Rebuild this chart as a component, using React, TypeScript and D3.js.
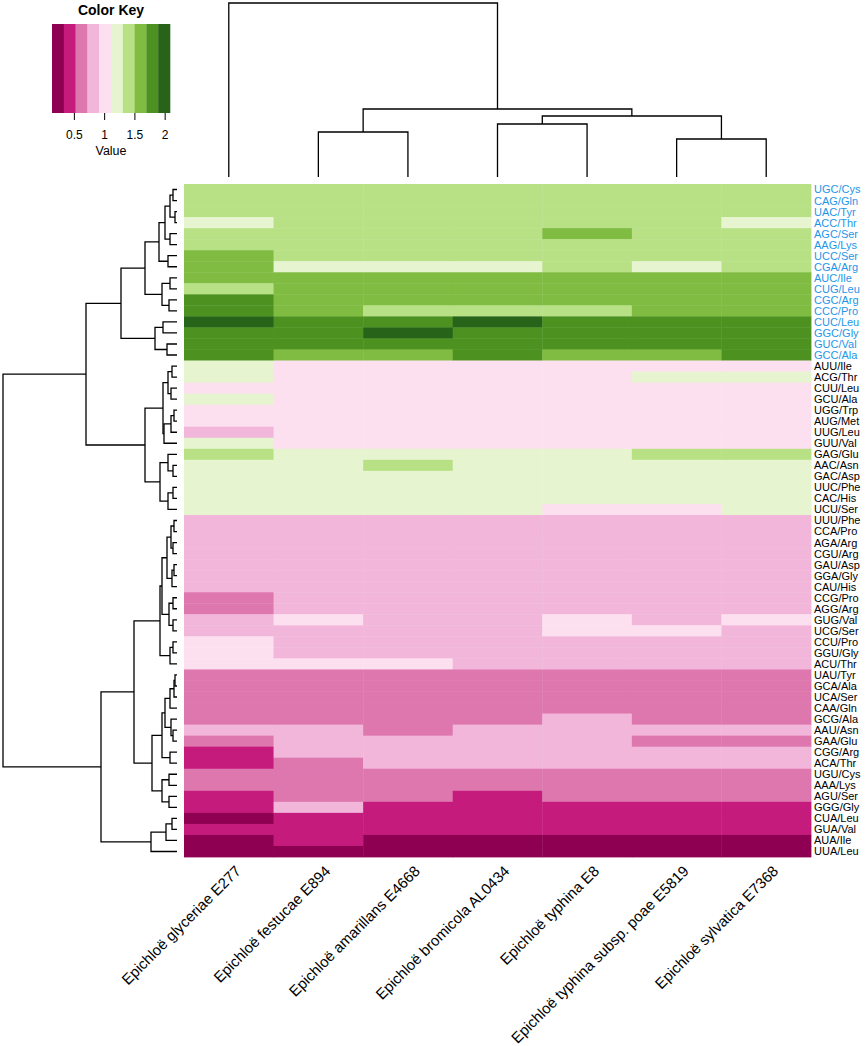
import React from "react";
import * as d3 from "d3";

const strains = [
  "Epichloë glyceriae E277",
  "Epichloë festucae E894",
  "Epichloë amarillans E4668",
  "Epichloë bromicola AL0434",
  "Epichloë typhina E8",
  "Epichloë typhina subsp. poae E5819",
  "Epichloë sylvatica E7368",
];

const codons = [
  "UGC/Cys", "CAG/Gln", "UAC/Tyr", "ACC/Thr", "AGC/Ser", "AAG/Lys", "UCC/Ser", "CGA/Arg",
  "AUC/Ile", "CUG/Leu", "CGC/Arg", "CCC/Pro", "CUC/Leu", "GGC/Gly", "GUC/Val", "GCC/Ala",
  "AUU/Ile", "ACG/Thr", "CUU/Leu", "GCU/Ala", "UGG/Trp", "AUG/Met", "UUG/Leu", "GUU/Val",
  "GAG/Glu", "AAC/Asn", "GAC/Asp", "UUC/Phe", "CAC/His", "UCU/Ser",
  "UUU/Phe", "CCA/Pro", "AGA/Arg", "CGU/Arg", "GAU/Asp", "GGA/Gly", "CAU/His", "CCG/Pro",
  "AGG/Arg", "GUG/Val", "UCG/Ser", "CCU/Pro", "GGU/Gly", "ACU/Thr",
  "UAU/Tyr", "GCA/Ala", "UCA/Ser", "CAA/Gln", "GCG/Ala", "AAU/Asn", "GAA/Glu", "CGG/Arg",
  "ACA/Thr", "UGU/Cys", "AAA/Lys", "AGU/Ser", "GGG/Gly", "CUA/Leu", "GUA/Val", "AUA/Ile", "UUA/Leu",
];

const preferredCodons = [
  "UGC/Cys", "CAG/Gln", "UAC/Tyr", "ACC/Thr", "AGC/Ser", "AAG/Lys", "UCC/Ser", "CGA/Arg",
  "AUC/Ile", "CUG/Leu", "CGC/Arg", "CCC/Pro", "CUC/Leu", "GGC/Gly", "GUC/Val", "GCC/Ala",
];

// RSCU values per strain (row order = codons)
const glyceriaeE277 = [
  1.40, 1.40, 1.40, 1.20, 1.40, 1.40, 1.59, 1.59, 1.59, 1.40, 1.79, 1.79, 1.98, 1.79, 1.79, 1.79,
  1.20, 1.20, 1.01, 1.20, 1.01, 1.01, 0.81, 1.20, 1.40, 1.20, 1.20, 1.20, 1.20, 1.20,
  0.81, 0.81, 0.81, 0.81, 0.81, 0.81, 0.81, 0.62, 0.62, 0.81, 0.81, 1.01, 1.01, 1.01,
  0.62, 0.62, 0.62, 0.62, 0.62, 0.81, 0.62, 0.42, 0.42, 0.62, 0.62, 0.42, 0.42, 0.23, 0.42, 0.23, 0.23,
];
const festucaeE894 = [
  1.40, 1.40, 1.40, 1.40, 1.40, 1.40, 1.40, 1.20, 1.59, 1.59, 1.59, 1.59, 1.79, 1.79, 1.79, 1.59,
  1.01, 1.01, 1.01, 1.01, 1.01, 1.01, 1.01, 1.01, 1.20, 1.20, 1.20, 1.20, 1.20, 1.20,
  0.81, 0.81, 0.81, 0.81, 0.81, 0.81, 0.81, 0.81, 0.81, 1.01, 0.81, 0.81, 0.81, 1.01,
  0.62, 0.62, 0.62, 0.62, 0.62, 0.81, 0.81, 0.81, 0.62, 0.62, 0.62, 0.62, 0.81, 0.42, 0.42, 0.42, 0.23,
];
const amarillansE4668 = [
  1.40, 1.40, 1.40, 1.40, 1.40, 1.40, 1.40, 1.20, 1.59, 1.59, 1.59, 1.40, 1.79, 1.98, 1.79, 1.59,
  1.01, 1.01, 1.01, 1.01, 1.01, 1.01, 1.01, 1.01, 1.20, 1.40, 1.20, 1.20, 1.20, 1.20,
  0.81, 0.81, 0.81, 0.81, 0.81, 0.81, 0.81, 0.81, 0.81, 0.81, 0.81, 0.81, 0.81, 1.01,
  0.62, 0.62, 0.62, 0.62, 0.62, 0.62, 0.81, 0.81, 0.81, 0.62, 0.62, 0.62, 0.42, 0.42, 0.42, 0.23, 0.23,
];
const bromicolaAL0434 = [
  1.40, 1.40, 1.40, 1.40, 1.40, 1.40, 1.40, 1.20, 1.59, 1.59, 1.59, 1.40, 1.98, 1.79, 1.79, 1.79,
  1.01, 1.01, 1.01, 1.01, 1.01, 1.01, 1.01, 1.01, 1.20, 1.20, 1.20, 1.20, 1.20, 1.20,
  0.81, 0.81, 0.81, 0.81, 0.81, 0.81, 0.81, 0.81, 0.81, 0.81, 0.81, 0.81, 0.81, 0.81,
  0.62, 0.62, 0.62, 0.62, 0.62, 0.81, 0.81, 0.81, 0.81, 0.62, 0.62, 0.42, 0.42, 0.42, 0.42, 0.23, 0.23,
];
const typhinaE8 = [
  1.40, 1.40, 1.40, 1.40, 1.59, 1.40, 1.40, 1.40, 1.59, 1.59, 1.59, 1.40, 1.79, 1.79, 1.79, 1.59,
  1.01, 1.01, 1.01, 1.01, 1.01, 1.01, 1.01, 1.01, 1.20, 1.20, 1.20, 1.20, 1.20, 1.01,
  0.81, 0.81, 0.81, 0.81, 0.81, 0.81, 0.81, 0.81, 0.81, 1.01, 1.01, 0.81, 0.81, 0.81,
  0.62, 0.62, 0.62, 0.62, 0.81, 0.81, 0.81, 0.81, 0.81, 0.62, 0.62, 0.62, 0.42, 0.42, 0.42, 0.23, 0.23,
];
const poaeE5819 = [
  1.40, 1.40, 1.40, 1.40, 1.40, 1.40, 1.40, 1.20, 1.59, 1.59, 1.59, 1.59, 1.79, 1.79, 1.79, 1.59,
  1.01, 1.20, 1.01, 1.01, 1.01, 1.01, 1.01, 1.01, 1.40, 1.20, 1.20, 1.20, 1.20, 1.01,
  0.81, 0.81, 0.81, 0.81, 0.81, 0.81, 0.81, 0.81, 0.81, 0.81, 1.01, 0.81, 0.81, 0.81,
  0.62, 0.62, 0.62, 0.62, 0.62, 0.81, 0.62, 0.81, 0.81, 0.62, 0.62, 0.62, 0.42, 0.42, 0.42, 0.23, 0.23,
];
const sylvaticaE7368 = [
  1.40, 1.40, 1.40, 1.20, 1.40, 1.40, 1.40, 1.40, 1.59, 1.59, 1.59, 1.59, 1.79, 1.79, 1.79, 1.79,
  1.01, 1.20, 1.01, 1.01, 1.01, 1.01, 1.01, 1.01, 1.40, 1.20, 1.20, 1.20, 1.20, 1.20,
  0.81, 0.81, 0.81, 0.81, 0.81, 0.81, 0.81, 0.81, 0.81, 1.01, 0.81, 0.81, 0.81, 0.81,
  0.62, 0.62, 0.62, 0.62, 0.62, 0.81, 0.62, 0.81, 0.81, 0.62, 0.62, 0.62, 0.42, 0.42, 0.42, 0.23, 0.23,
];

const seriesValues = [
  glyceriaeE277, festucaeE894, amarillansE4668, bromicolaAL0434,
  typhinaE8, poaeE5819, sylvaticaE7368,
];

const keyDomain = [0.13, 2.08];
const keyTicks = [0.5, 1, 1.5, 2];
const palette = [
  "#8E0152", "#C51B7D", "#DE77AE", "#F1B6DA", "#FDE0EF",
  "#E6F5D0", "#B8E186", "#7FBC41", "#4D9221", "#276419",
];

type TreeNode = number | { h: number; c: [TreeNode, TreeNode] };

// Row dendrogram (leaves = codon row indices)
const rowTree: TreeNode = {
  h: 174, c: [
    { h: 91, c: [
      { h: 56, c: [
        { h: 32, c: [
          { h: 18, c: [
            { h: 12, c: [
              { h: 7, c: [{ h: 4, c: [0, 1] }, { h: 2, c: [2, 3] }] },
              { h: 7, c: [4, 5] },
            ] },
            { h: 9, c: [6, 7] },
          ] },
          { h: 15, c: [{ h: 7, c: [8, 9] }, { h: 8, c: [10, 11] }] },
        ] },
        { h: 22, c: [{ h: 14, c: [12, 13] }, { h: 10, c: [14, 15] }] },
      ] },
      { h: 32, c: [
        { h: 14, c: [
          { h: 9, c: [{ h: 5, c: [16, 17] }, { h: 6, c: [18, 19] }] },
          { h: 13, c: [{ h: 6, c: [{ h: 3, c: [20, 21] }, 22] }, 23] },
        ] },
        { h: 17, c: [
          { h: 9, c: [24, { h: 4, c: [25, 26] }] },
          { h: 9, c: [{ h: 4, c: [27, 28] }, 29] },
        ] },
      ] },
    ] },
    { h: 76, c: [
      { h: 43, c: [
        { h: 17, c: [
          { h: 15, c: [
            { h: 10, c: [
              { h: 6, c: [{ h: 3, c: [30, 31] }, { h: 4, c: [32, 33] }] },
              { h: 5, c: [{ h: 3, c: [34, 35] }, 36] },
            ] },
            { h: 8, c: [{ h: 4, c: [37, 38] }, { h: 4, c: [39, 40] }] },
          ] },
          { h: 7, c: [{ h: 4, c: [41, 42] }, 43] },
        ] },
        { h: 25, c: [
          { h: 15, c: [
            { h: 12, c: [
              { h: 7, c: [{ h: 3, c: [{ h: 2, c: [44, 45] }, 46] }, 47] },
              { h: 6, c: [48, { h: 4, c: [49, 50] }] },
            ] },
            { h: 7, c: [51, 52] },
          ] },
          { h: 15, c: [{ h: 8, c: [53, 54] }, { h: 8, c: [55, 56] }] },
        ] },
      ] },
      { h: 26, c: [{ h: 11, c: [{ h: 5, c: [57, 58] }, 59] }, 60] },
    ] },
  ],
};

// Column dendrogram (leaves = strain indices)
const colTree: TreeNode = {
  h: 174, c: [
    0,
    { h: 68, c: [
      { h: 45, c: [1, 2] },
      { h: 61, c: [{ h: 53, c: [3, 4] }, { h: 38, c: [5, 6] }] },
    ] },
  ],
};

type Seg = { a: { p: number; h: number }; b: { p: number; h: number }; h: number };
function layoutTree(node: TreeNode, posOf: (i: number) => number, out: Seg[]): { p: number; h: number } {
  if (typeof node === "number") return { p: posOf(node), h: 0 };
  const a = layoutTree(node.c[0], posOf, out);
  const b = layoutTree(node.c[1], posOf, out);
  out.push({ a, b, h: node.h });
  return { p: (a.p + b.p) / 2, h: node.h };
}

const W = 867;
const H = 1046;
const FONT = "'Liberation Sans', Arial, Helvetica, sans-serif";

export default function App() {
  const x = d3.scaleBand<number>().domain(d3.range(strains.length)).range([184, 811]);
  const y = d3.scaleBand<number>().domain(d3.range(codons.length)).range([184, 857]);
  const color = d3.scaleQuantize<string>().domain(keyDomain).range(palette);

  const rowH = d3.scaleLinear().domain([0, 174]).range([177, 3]);
  const colH = d3.scaleLinear().domain([0, 174]).range([177, 3]);

  const rowSegs: Seg[] = [];
  layoutTree(rowTree, (i) => (y(i) as number) + y.bandwidth() / 2, rowSegs);
  const colSegs: Seg[] = [];
  layoutTree(colTree, (i) => (x(i) as number) + x.bandwidth() / 2, colSegs);

  const keyX = d3.scaleLinear().domain(keyDomain).range([52, 170]);
  const edges = [keyDomain[0], ...color.thresholds(), keyDomain[1]];

  const cells: React.ReactNode[] = [];
  seriesValues.forEach((vals, ci) => {
    vals.forEach((v, ri) => {
      cells.push(
        <rect
          key={`${ci}-${ri}`}
          x={x(ci)}
          y={y(ri)}
          width={x.bandwidth() + 0.4}
          height={y.bandwidth() + 0.4}
          fill={color(v)}
        />
      );
    });
  });

  return (
    <svg
      width={W}
      height={H}
      style={{ position: "absolute", left: 0, top: 0, background: "#fff" }}
      fontFamily={FONT}
    >
      {/* Color key */}
      <text x={111} y={15} textAnchor="middle" fontWeight="bold" fontSize={14}>Color Key</text>
      {palette.map((c, i) => (
        <rect key={c} x={keyX(edges[i])} y={24} width={keyX(edges[i + 1]) - keyX(edges[i]) + 0.3} height={89} fill={c} />
      ))}
      {keyTicks.map((t) => (
        <g key={t}>
          <line x1={keyX(t)} x2={keyX(t)} y1={113} y2={120} stroke="#000" strokeWidth={1} />
          <text x={keyX(t)} y={139} textAnchor="middle" fontSize={12}>{t}</text>
        </g>
      ))}
      <text x={111} y={155} textAnchor="middle" fontSize={12.5}>Value</text>

      {/* Heatmap */}
      <g>{cells}</g>

      {/* Row dendrogram */}
      <g fill="none" stroke="#000" strokeWidth={1.3}>
        {rowSegs.map((s, i) => (
          <path key={i} d={`M${rowH(s.a.h)},${s.a.p}H${rowH(s.h)}V${s.b.p}H${rowH(s.b.h)}`} />
        ))}
      </g>

      {/* Column dendrogram */}
      <g fill="none" stroke="#000" strokeWidth={1.3}>
        {colSegs.map((s, i) => (
          <path key={i} d={`M${s.a.p},${colH(s.a.h)}V${colH(s.h)}H${s.b.p}V${colH(s.b.h)}`} />
        ))}
      </g>

      {/* Row labels */}
      {codons.map((c, i) => (
        <text
          key={c + i}
          x={814}
          y={(y(i) as number) + y.bandwidth() / 2}
          dy="0.36em"
          fontSize={11}
          fill={preferredCodons.includes(c) ? "#1E96E8" : "#000"}
        >
          {c}
        </text>
      ))}

      {/* Column labels */}
      {strains.map((s, i) => {
        const cx = (x(i) as number) + x.bandwidth() / 2 + 13;
        const cy = 872;
        return (
          <text key={s} x={cx} y={cy} textAnchor="end" fontSize={15} transform={`rotate(-45 ${cx} ${cy})`}>
            {s}
          </text>
        );
      })}
    </svg>
  );
}
